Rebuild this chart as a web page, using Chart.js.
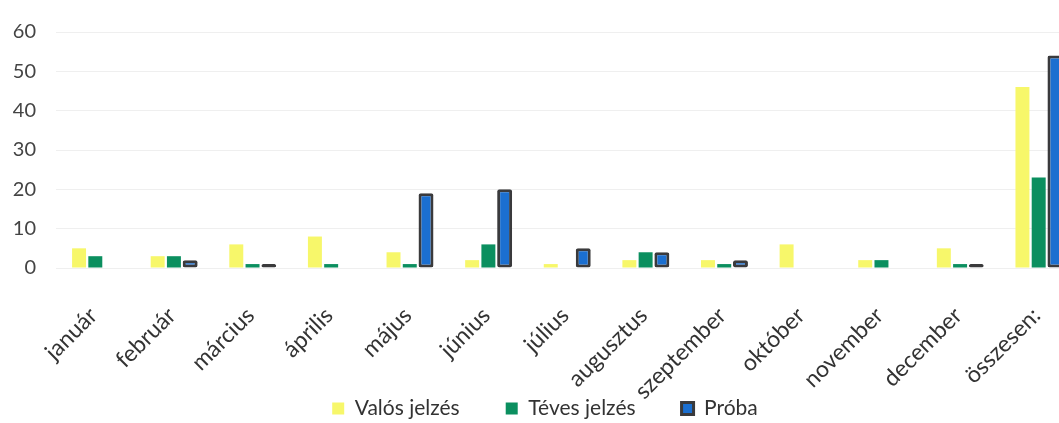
<!DOCTYPE html>
<html><head><meta charset="utf-8">
<script src="https://cdn.jsdelivr.net/npm/chart.js@4/dist/chart.umd.min.js"></script>
<style>
html,body{margin:0;padding:0;background:#fff;overflow:hidden;width:1059px;height:423px;}
#wrap{position:absolute;left:0;top:0;width:1078px;height:423px;}
</style></head>
<body>
<div id="wrap"><canvas id="c" width="1078" height="423"></canvas></div>
<script>
const categories = ["január","február","március","április","május","június","július","augusztus","szeptember","október","november","december","összesen:"];
const valosJelzes = [5,3,6,8,4,2,1,2,2,6,2,5,46];
const tevesJelzes = [3,3,1,1,1,6,0,4,1,0,2,1,23];
const proba = [0,2,1,0,19,20,5,4,2,0,0,1,54];
const yTicks = [0,10,20,30,40,50,60];

const legendHeightFix = {
  id:'legendHeightFix',
  afterInit(chart){
    const lg = chart.legend;
    const of = lg.fit.bind(lg);
    lg.fit = function(){ of(); this.height = 71; };
  }
};

new Chart(document.getElementById('c'), {
  type: 'bar',
  data: {
    labels: categories,
    datasets: [
      {label:'Valós jelzés', data: valosJelzes, backgroundColor:'#f7f76a', borderWidth:0, barPercentage:0.86, categoryPercentage:0.62},
      {label:'Téves jelzés', data: tevesJelzes, backgroundColor:'#0b8f5f', borderWidth:0, barPercentage:0.86, categoryPercentage:0.62},
      {label:'Próba', data: proba, backgroundColor:'#1b6fd0', borderColor:'#3a3a3c', borderWidth:3, borderSkipped:false, borderRadius:2, barPercentage:0.92, categoryPercentage:0.62}
    ]
  },
  plugins:[legendHeightFix],
  options: {
    responsive:false, animation:false,
    layout:{autoPadding:false, padding:{left:12,right:0,top:0,bottom:0}},
    plugins:{
      legend:{position:'bottom', labels:{boxWidth:12, boxHeight:12, padding:46, font:{family:'Lato', size:21}, color:'#333'}},
      tooltip:{enabled:false}
    },
    scales:{
      x:{grid:{display:false}, border:{display:false},
         afterFit: s => { s.height = 84; s.paddingLeft = 0; s.paddingRight = 0; s._computeLabelArea = () => undefined; },
         ticks:{minRotation:45, maxRotation:45, labelOffset:-2, font:{family:'Lato', size:23}, color:'#333', padding:26}},
      y:{min:0, max:60, afterBuildTicks: ax => { ax.ticks = yTicks.map(v=>({value:v})); },
         afterFit: s => { s.width = 44; },
         grid:{color:'#efefef', drawTicks:false}, border:{display:false},
         ticks:{font:{family:'Lato', size:20}, color:'#444', padding:20}}
    }
  }
});
</script>
</body></html>
